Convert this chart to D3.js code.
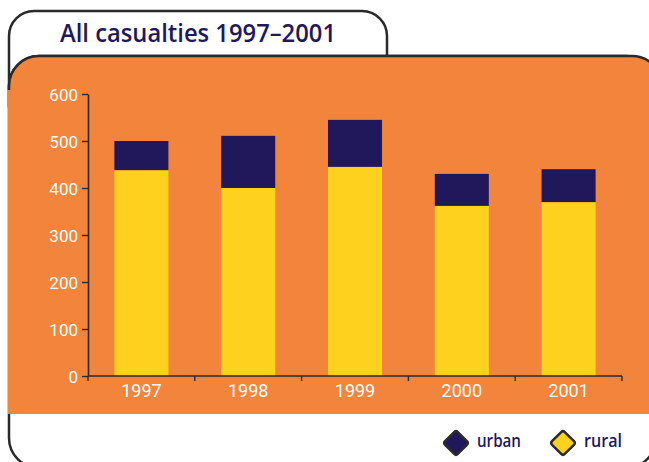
<!DOCTYPE html>
<html><head><meta charset="utf-8">
<script src="https://cdn.jsdelivr.net/npm/d3@7/dist/d3.min.js"></script>
<style>html,body{margin:0;padding:0;background:#fff;}svg{display:block;}</style>
</head><body>
<svg id="chart" width="649" height="462"></svg>
<script>
const title = "All casualties 1997–2001";
const years = ["1997", "1998", "1999", "2000", "2001"];
const rural = [438, 400, 445, 362, 370];
const urban = [62, 111, 100, 68, 70];
const yTicks = [0, 100, 200, 300, 400, 500, 600];
const seriesNames = ["urban", "rural"];

const COL_ORANGE = "#F3843B", COL_NAVY = "#21185C", COL_YELLOW = "#FED11F", COL_LINE = "#2a2a2a";

const svg = d3.select("#chart");

// outer frame (tab + main box)
svg.append("rect").attr("x", 9).attr("y", 11).attr("width", 378).attr("height", 120)
  .attr("rx", 25).attr("fill", "#fff").attr("stroke", COL_LINE).attr("stroke-width", 2.5);
svg.append("rect").attr("x", 9).attr("y", 56).attr("width", 647).attr("height", 412)
  .attr("rx", 30).attr("fill", "#fff").attr("stroke", COL_LINE).attr("stroke-width", 2.5);

// orange panel
const oL = 8, oT = 56, oR = 662, oB = 414, r = 30;
const panel = d3.path();
panel.moveTo(oL, oB); panel.lineTo(oL, oT + r);
panel.arcTo(oL, oT, oL + r, oT, r); panel.lineTo(oR - r, oT);
panel.arcTo(oR, oT, oR, oT + r, r); panel.lineTo(oR, oB); panel.closePath();
svg.append("path").attr("d", panel.toString()).attr("fill", COL_ORANGE);
const topEdge = d3.path();
topEdge.moveTo(oL + 1, oT + r + 4); topEdge.lineTo(oL + 1, oT + r);
topEdge.arcTo(oL + 1, oT, oL + 1 + r, oT, r); topEdge.lineTo(oR - r, oT);
topEdge.arcTo(oR, oT, oR, oT + r, r);
svg.append("path").attr("d", topEdge.toString()).attr("fill", "none")
  .attr("stroke", COL_LINE).attr("stroke-width", 2.5);

// title
svg.append("text").attr("x", 60).attr("y", 42).text(title)
  .attr("font-family", "'Open Sans', sans-serif").attr("font-weight", 600)
  .attr("font-size", 26).attr("fill", COL_NAVY)
  .attr("textLength", 276).attr("lengthAdjust", "spacingAndGlyphs");

// scales
const x = d3.scaleBand().domain(years).range([88, 622]).paddingInner(0.494).paddingOuter(0.247);
const y = d3.scaleLinear().domain([0, 600]).range([376, 94]);

const data = years.map((yr, i) => ({ year: yr, rural: rural[i], urban: urban[i] }));
const stack = d3.stack().keys(["rural", "urban"])(data);
const colors = { rural: COL_YELLOW, urban: COL_NAVY };

const g = svg.append("g");
stack.forEach(layer => {
  g.selectAll(null).data(layer).enter().append("rect")
    .attr("x", d => x(d.data.year)).attr("width", x.bandwidth())
    .attr("y", d => y(d[1])).attr("height", d => y(d[0]) - y(d[1]))
    .attr("fill", colors[layer.key]);
});

// y axis
const yAxis = svg.append("g").attr("transform", "translate(88,0)")
  .call(d3.axisLeft(y).tickValues(yTicks).tickSize(6).tickPadding(4).tickSizeOuter(0));
yAxis.select(".domain").attr("stroke", COL_LINE).attr("stroke-width", 1.6);
yAxis.selectAll(".tick line").attr("stroke", COL_LINE).attr("stroke-width", 1.4);
yAxis.selectAll(".tick text").attr("fill", "#fff").attr("font-family", "Roboto, sans-serif")
  .attr("font-size", 17).attr("dy", "0.36em");

// x axis: line + boundary ticks
const step = x.step();
const bounds = years.map(yr => x(yr) - x.paddingInner() * step / 2).concat([x(years[years.length - 1]) + x.bandwidth() + x.paddingInner() * step / 2]);
const xAxis = svg.append("g");
xAxis.append("line").attr("x1", 88).attr("x2", bounds[bounds.length - 1]).attr("y1", y(0)).attr("y2", y(0))
  .attr("stroke", COL_LINE).attr("stroke-width", 1.6);
xAxis.selectAll(null).data(bounds).enter().append("line")
  .attr("x1", d => d).attr("x2", d => d).attr("y1", y(0)).attr("y2", y(0) + 5)
  .attr("stroke", COL_LINE).attr("stroke-width", 1.4);
xAxis.selectAll(null).data(years).enter().append("text")
  .attr("x", d => x(d) + x.bandwidth() / 2).attr("y", 397).attr("text-anchor", "middle")
  .attr("fill", "#fff").attr("font-family", "Roboto, sans-serif").attr("font-size", 18).text(d => d);

// legend
const legendX = [456, 563];
const lg = svg.append("g");
seriesNames.forEach((name, i) => {
  const cx = legendX[i], cy = 443;
  lg.append("rect").attr("x", -9).attr("y", -9).attr("width", 18).attr("height", 18).attr("rx", 2.5)
    .attr("transform", `translate(${cx},${cy}) rotate(45)`)
    .attr("fill", colors[name]).attr("stroke", COL_LINE).attr("stroke-width", 2.5);
  lg.append("text").attr("x", cx + 21).attr("y", 447).text(name)
    .attr("font-family", "'Open Sans', sans-serif").attr("font-weight", 600).attr("font-size", 18)
    .attr("fill", COL_NAVY).attr("textLength", name === "urban" ? 44 : 38).attr("lengthAdjust", "spacingAndGlyphs");
});
</script>
</body></html>
